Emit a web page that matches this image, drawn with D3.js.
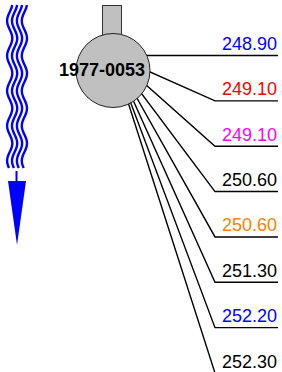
<!DOCTYPE html>
<html>
<head>
<meta charset="utf-8">
<script src="https://cdn.jsdelivr.net/npm/d3@7"></script>
<style>
  body { margin: 0; background: #fff; }
  svg { display: block; }
</style>
</head>
<body>
<script>
// ** data
var wellName = '1977-0053';
var depthLabels = ['248.90', '249.10', '249.10', '250.60', '250.60', '251.30', '252.20', '252.30'];
var labelColors = ['#0000ff', '#ff0000', '#ff00ff', '#000000', '#ff8000', '#000000', '#0000ff', '#000000'];

var W = 282, H = 372;
var svg = d3.select('body').append('svg')
    .attr('width', W)
    .attr('height', H);

// ** label rows
var y = d3.scalePoint()
    .domain(d3.range(depthLabels.length))
    .range([55.5, 373]);

var origin = [113, 55.5];
var elbowX = 215, endX = 278;

svg.selectAll('path.leader')
    .data(depthLabels)
  .enter().append('path')
    .attr('class', 'leader')
    .attr('fill', 'none')
    .attr('stroke', '#000')
    .attr('stroke-width', 1.4)
    .attr('d', function(d, i){
      var p = d3.path();
      p.moveTo(origin[0], origin[1]);
      p.lineTo(i === 0 ? origin[0] : elbowX, y(i));
      p.lineTo(endX, y(i));
      return p.toString();
    });

svg.selectAll('text.depth')
    .data(depthLabels)
  .enter().append('text')
    .attr('class', 'depth')
    .attr('x', 277)
    .attr('y', function(d, i){ return y(i) - 5.5; })
    .attr('text-anchor', 'end')
    .attr('font-family', 'Liberation Sans, Arial, sans-serif')
    .attr('font-size', '18px')
    .attr('fill', function(d, i){ return labelColors[i]; })
    .text(function(d){ return d; });

// ** well symbol
svg.append('rect')
    .attr('x', 102.5).attr('y', 5.5)
    .attr('width', 19).attr('height', 35)
    .attr('fill', '#c0c0c0')
    .attr('stroke', '#333')
    .attr('stroke-width', 1);

svg.append('circle')
    .attr('cx', 113).attr('cy', 70.5).attr('r', 37)
    .attr('fill', '#c0c0c0')
    .attr('stroke', '#222')
    .attr('stroke-width', 1);

svg.append('text')
    .attr('x', 59).attr('y', 75.5)
    .attr('font-family', 'Liberation Sans, Arial, sans-serif')
    .attr('font-weight', 'bold')
    .attr('font-size', '18px')
    .attr('fill', '#000')
    .text(wellName);

// ** wavy flow arrow
var waveLine = d3.line().curve(d3.curveBasis);
[9.7, 14.6, 19.5, 24.4].forEach(function(cx){
  var pts = [];
  for (var t = 5; t <= 168; t += 1) {
    pts.push([cx + 2.6 * Math.cos((t - 5) / 35 * 2 * Math.PI + 0.3), t]);
  }
  svg.append('path')
      .attr('d', waveLine(pts))
      .attr('fill', 'none')
      .attr('stroke', '#0000ff')
      .attr('stroke-width', 2.4);
});

svg.append('line')
    .attr('x1', 16.5).attr('x2', 16.5)
    .attr('y1', 171).attr('y2', 182)
    .attr('stroke', '#0000ff')
    .attr('stroke-width', 2);

svg.append('path')
    .attr('d', 'M8,181L26,181L17,245Z')
    .attr('fill', '#0000ff');
</script>
</body>
</html>
